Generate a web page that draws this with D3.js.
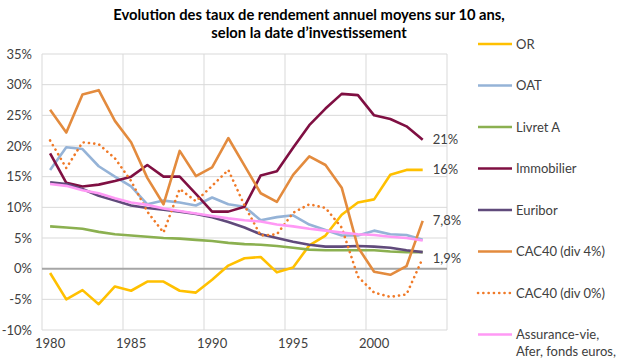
<!DOCTYPE html>
<html><head><meta charset="utf-8">
<script src="https://cdn.jsdelivr.net/npm/d3@7"></script>
<style>
html,body{margin:0;padding:0;background:#fff;}
text{font-family:Lato,"Open Sans",sans-serif;}
</style></head>
<body>
<svg id="c" width="621" height="364"></svg>
<script>
const years = [1980,1981,1982,1983,1984,1985,1986,1987,1988,1989,1990,1991,1992,1993,1994,1995,1996,1997,1998,1999,2000,2001,2002,2003];
const axisYears = [1980,1981,1982,1983,1984,1985,1986,1987,1988,1989,1990,1991,1992,1993,1994,1995,1996,1997,1998,1999,2000,2001,2002,2003,2004];
const xTickLabels = [1980,1985,1990,1995,2000];
const yTicks = [-10,-5,0,5,10,15,20,25,30,35];

const orValues = [-0.7,-5.0,-3.5,-5.8,-2.9,-3.6,-2.1,-2.1,-3.6,-3.9,-1.8,0.5,1.7,1.9,-0.6,0.2,3.8,5.4,8.8,10.8,11.3,15.3,16.1,16.1];
const oatValues = [16.1,19.8,19.5,16.7,15.0,13.4,10.5,11.1,10.8,10.3,11.6,10.5,10.1,7.9,8.4,8.7,7.2,6.3,5.4,5.4,6.2,5.6,5.5,4.7];
const livretValues = [6.9,6.7,6.5,6.0,5.6,5.4,5.2,5.0,4.9,4.7,4.5,4.2,4.0,3.9,3.7,3.4,3.1,3.0,3.0,3.0,3.0,2.8,2.7,2.7];
const immoValues = [18.8,14.0,13.4,13.7,14.3,15.0,16.9,15.0,15.0,12.2,9.3,9.3,10.1,15.2,15.9,19.7,23.4,26.1,28.5,28.3,25.0,24.4,23.2,21.0];
const euriborValues = [14.1,13.8,13.0,11.9,11.1,10.3,9.9,9.6,9.3,8.9,8.4,7.6,6.7,5.6,5.0,4.4,3.9,3.6,3.6,3.7,3.6,3.4,3.0,2.7];
const cac4Values = [25.9,22.2,28.4,29.1,24.1,20.6,14.8,10.5,19.2,15.1,16.5,21.3,16.8,12.3,10.9,15.3,18.3,16.9,13.2,3.5,-0.5,-1.0,0.4,7.8];
const cac0Values = [20.9,16.4,20.6,20.3,18.0,14.3,9.3,5.9,13.0,11.0,13.5,16.1,10.3,5.4,5.6,9.1,10.5,9.9,6.7,-1.3,-3.9,-4.6,-4.2,1.7];
const assurValues = [13.8,13.5,12.8,12.3,11.5,10.8,10.4,9.8,9.4,9.0,8.6,8.2,7.9,7.7,7.2,6.9,6.5,6.2,5.9,5.6,5.5,5.2,5.0,4.6];

const seriesNames = ["OR","OAT","Livret A","Immobilier","Euribor","CAC40 (div 4%)","CAC40 (div 0%)","Assurance-vie, Afer, fonds euros,"];
const seriesValues = [orValues,oatValues,livretValues,immoValues,euriborValues,cac4Values,cac0Values,assurValues];
const seriesColors = ["#FFC000","#95B3D7","#8BB050","#7F0F42","#604A7B","#E38B3E","#F07A28","#FF99F5"];
const seriesDotted = [false,false,false,false,false,false,true,false];
const endLabelSeries = [3,0,5,6];
const endLabelTexts = ["21%","16%","7,8%","1,9%"];

const svg = d3.select("#c");
const L=42, R=447, T=54, B=330;
const x = d3.scaleBand().domain(axisYears).range([L,R]).padding(0);
const y = d3.scaleLinear().domain([-10,35]).range([B,T]);
const cx = d => x(d) + x.bandwidth()/2;

// horizontal gridlines
svg.append("g").selectAll("line").data(yTicks.filter(v=>v!==0)).join("line")
  .attr("x1",L).attr("x2",R).attr("y1",d=>y(d)).attr("y2",d=>y(d))
  .attr("stroke","#D9D9D9").attr("stroke-width",1);
// vertical gridlines
const vg = [1985,1990,1995,2000];
svg.append("g").selectAll("line").data(vg).join("line")
  .attr("x1",d=>x(d)).attr("x2",d=>x(d)).attr("y1",T).attr("y2",B)
  .attr("stroke","#D9D9D9").attr("stroke-width",1);
svg.append("line").attr("x1",R).attr("x2",R).attr("y1",T).attr("y2",B).attr("stroke","#D9D9D9");
svg.append("line").attr("x1",L).attr("x2",L).attr("y1",T).attr("y2",B).attr("stroke","#D9D9D9");
// zero line
svg.append("line").attr("x1",L).attr("x2",R).attr("y1",y(0)).attr("y2",y(0))
  .attr("stroke","#A6A6A6").attr("stroke-width",2);

// y labels
const yAxis = d3.axisLeft(y).tickValues(yTicks).tickSize(0).tickPadding(0).tickFormat(d=>d+"%");
const ga = svg.append("g").attr("transform",`translate(${L-10},0)`).call(yAxis);
ga.select(".domain").remove();
ga.selectAll("text").attr("font-size",13).attr("fill","#404040").style("font-family","Lato");

// x labels
const xAxis = d3.axisBottom(x).tickValues(xTickLabels).tickSize(0).tickPadding(0);
const gx = svg.append("g").attr("transform",`translate(0,${B+9})`).call(xAxis);
gx.select(".domain").remove();
gx.selectAll("text").attr("font-size",13).attr("fill","#404040").style("font-family","Lato");

// lines
const line = d3.line().x((d,i)=>cx(years[i])).y(d=>y(d));
seriesValues.forEach((vals,k)=>{
  const p = svg.append("path").datum(vals).attr("d",line).attr("fill","none")
    .attr("stroke",seriesColors[k]).attr("stroke-width",2.6).attr("stroke-linejoin","round");
  if(seriesDotted[k]) p.attr("stroke-dasharray","0.1 5.2").attr("stroke-linecap","round");
});

// end labels, placed at the last value of their series
const lastYear = years[years.length-1];
svg.append("g").selectAll("text").data(endLabelSeries).join("text")
  .attr("x",cx(lastYear)+10)
  .attr("y",s=>y(seriesValues[s][seriesValues[s].length-1]))
  .attr("dy","0.35em").attr("font-size",13).attr("fill","#404040")
  .text((s,i)=>endLabelTexts[i]);

// legend
const lg = svg.append("g");
seriesNames.forEach((n,k)=>{
  const ly = 44 + k*41.5;
  const ln = lg.append("line").attr("x1",478).attr("x2",512).attr("y1",ly).attr("y2",ly)
    .attr("stroke",seriesColors[k]).attr("stroke-width",2.6);
  if(seriesDotted[k]) ln.attr("stroke-dasharray","0.1 5.2").attr("stroke-linecap","round");
  if(k===7){
    lg.append("text").attr("x",516).attr("y",ly).attr("dy","0.35em").attr("font-size",13).attr("fill","#404040").text("Assurance-vie,");
    lg.append("text").attr("x",516).attr("y",ly+17).attr("dy","0.35em").attr("font-size",13).attr("fill","#404040").text("Afer, fonds euros,");
  } else {
    lg.append("text").attr("x",516).attr("y",ly).attr("dy","0.35em").attr("font-size",13).attr("fill","#404040").text(n);
  }
});

// title
const t1 = svg.append("text").attr("x",309).attr("y",20).attr("text-anchor","middle")
  .attr("font-weight","bold").attr("font-size",15).attr("fill","#000").text("Evolution des taux de rendement annuel moyens sur 10 ans,");
const w = t1.node().getComputedTextLength();
const fs = 15*392/w;
t1.attr("font-size",fs);
svg.append("text").attr("x",309).attr("y",38).attr("text-anchor","middle")
  .attr("font-weight","bold").attr("font-size",fs).attr("fill","#000").text("selon la date d\u2019investissement");
</script>
</body></html>
